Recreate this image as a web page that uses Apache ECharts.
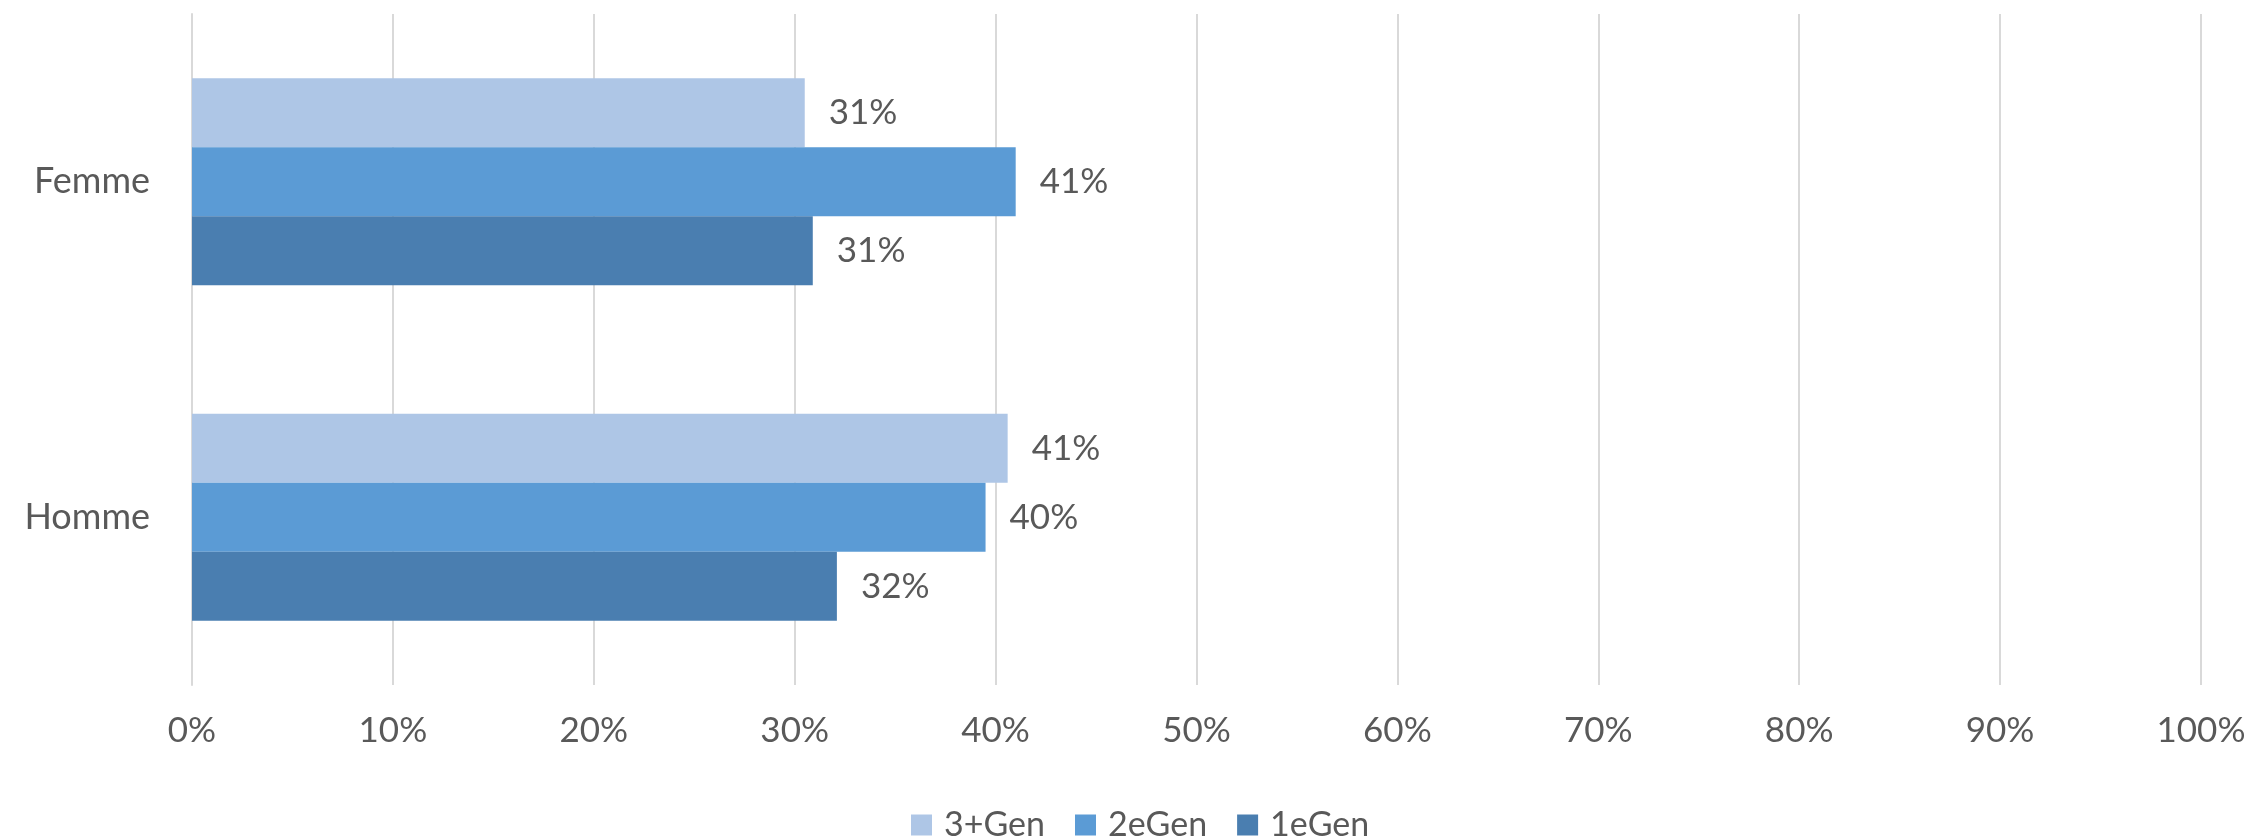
<!DOCTYPE html>
<html>
<head>
<meta charset="utf-8">
<script src="https://cdn.jsdelivr.net/npm/echarts@6/dist/echarts.min.js"></script>
<style>
  html, body { margin: 0; padding: 0; background: #fff; }
  #chart { width: 2249px; height: 838px; }
</style>
</head>
<body>
<div id="chart"></div>
<script>
// data (percent)
const categories = ["Femme", "Homme"];
const seriesNames = ["3+Gen", "2eGen", "1eGen"];
const gen3 = [30.5, 40.6];
const gen2 = [41.0, 39.5];
const gen1 = [30.9, 32.1];
const xTicks = [0, 10, 20, 30, 40, 50, 60, 70, 80, 90, 100];

const colors = ["#aec6e6", "#5b9bd5", "#4a7eb0"];
const font = "Lato";
const textColor = "#595959";

const myChart = echarts.init(document.getElementById("chart"));

function makeSeries(name, data, i) {
  return {
    name: name,
    type: "bar",
    data: data,
    barWidth: 69,
    barGap: 0,
    itemStyle: { color: colors[i] },
    label: {
      show: true,
      position: "right",
      distance: 24,
      color: textColor,
      fontFamily: font,
      fontSize: 35,
      formatter: (p) => Math.round(p.value) + "%",
    },
  };
}

myChart.setOption({
  animation: false,
  color: colors,
  grid: {
    left: 192,
    right: 48,
    top: 14,
    bottom: 153,
  },
  legend: {
    data: seriesNames,
    left: 906,
    top: 803,
    itemWidth: 21,
    itemHeight: 21,
    itemGap: 30,
    icon: "rect",
    formatter: (name) => "{t|" + name + "}",
    textStyle: {
      color: textColor,
      fontFamily: font,
      fontSize: 34,
      rich: {
        t: {
          color: textColor,
          fontFamily: font,
          fontSize: 34,
          padding: [0, 0, 0, 7],
        },
      },
    },
  },
  xAxis: {
    type: "value",
    min: xTicks[0],
    max: xTicks[xTicks.length - 1],
    interval: 10,
    axisLine: { show: false },
    axisTick: { show: false },
    splitLine: { lineStyle: { color: "#d9d9d9", width: 2 } },
    axisLabel: {
      color: textColor,
      fontFamily: font,
      fontSize: 35,
      margin: 28,
      formatter: (v) => v + "%",
    },
  },
  yAxis: {
    type: "category",
    data: categories,
    inverse: true,
    axisLine: { lineStyle: { color: "#d9d9d9", width: 2 } },
    axisTick: { show: false },
    axisLabel: {
      color: textColor,
      fontFamily: font,
      fontSize: 36,
      margin: 42,
    },
  },
  series: [
    makeSeries(seriesNames[0], gen3, 0),
    makeSeries(seriesNames[1], gen2, 1),
    makeSeries(seriesNames[2], gen1, 2),
  ],
});
</script>
</body>
</html>
